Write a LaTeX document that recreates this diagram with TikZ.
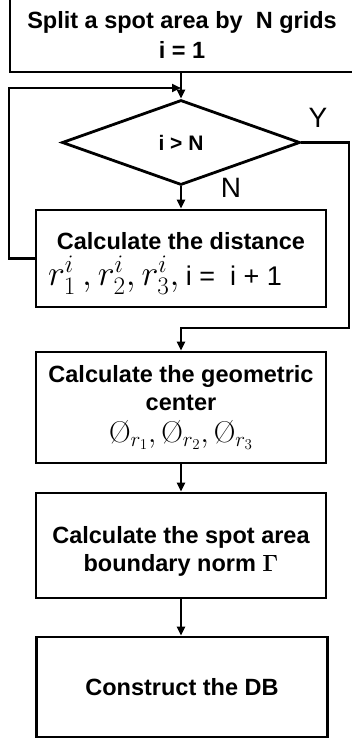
\RequirePackage{fix-cm}
\documentclass[tikz,border=0pt]{standalone}
\usepackage{amsmath}
\usepackage[no-math]{fontspec}
\newfontfamily\arialf{Liberation Sans}
\usetikzlibrary{shapes.geometric,arrows.meta}
\begin{document}
\begin{tikzpicture}[x=1pt,y=-1pt,
  box/.style={draw, rectangle, line width=2.8pt, minimum width=290pt, align=center, inner sep=0pt,
    font=\arialf\bfseries\fontsize{23.5}{28}\selectfont},
  arr/.style={line width=2.2pt, -{Triangle[length=9pt,width=8pt]}},
  yn/.style={font=\arialf\fontsize{28}{30}\selectfont, inner sep=0pt}]
\useasboundingbox (0,0) rectangle (351,739);

\node[box, minimum width=344pt, minimum height=74pt] (top) at (182,35)
  {Split a spot area by\ \ N grids\\[2pt] i = 1};
\node[draw, diamond, line width=2.8pt, minimum width=238pt, minimum height=85pt, inner sep=0pt,
  font=\arialf\bfseries\fontsize{21}{22}\selectfont] (dia) at (181,142.5) {i > N};
\node[box, minimum height=97pt] (dist) at (181,258.5)
  {\rule{0pt}{27pt}Calculate the distance\\[5pt]
   {\fontsize{36}{36}\selectfont $r_1^i\,,r_2^i,r_3^i,$}\ {\mdseries\fontsize{27}{36}\selectfont i =\ \ i + 1}\hspace*{32pt}};
\node[box, minimum height=111pt] (geom) at (181,407.5)
  {Calculate the geometric\\ center\\[4pt]
   {\fontsize{30}{32}\selectfont $\textnormal{\O}_{r_1},\textnormal{\O}_{r_2},\textnormal{\O}_{r_3}$}};
\node[box, minimum height=105pt] (spot) at (181,545.5)
  {\rule{0pt}{28pt}Calculate the spot area\\ boundary norm $\mathbf{\Gamma}$};
\node[box, minimum width=291pt, minimum height=100pt] (db) at (182,687) {Construct the DB};

\node[yn] (ylab) at (318,118) {Y};
\node[yn] (nlab) at (231,188) {N};

\coordinate (j) at (181,88);
\coordinate (yc) at (349,328);

\draw[arr] (top.south -| dia.north) -- (dia.north);
\draw[arr] (dist.west) -- ++(-26,0) |- (j);
\draw[arr] (dia.south) -- (dist.north);
\draw[arr] (dia.east) -| (yc) -| (geom.north);
\draw[arr] (geom.south) -- (spot.north);
\draw[arr] (spot.south) -- (spot.south |- db.north);
\end{tikzpicture}
\end{document}
